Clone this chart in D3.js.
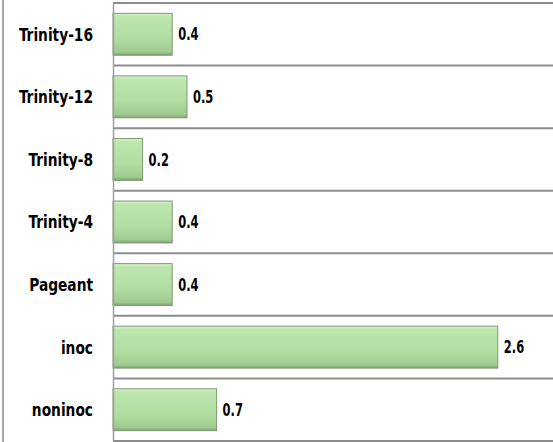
<!DOCTYPE html>
<html><head><meta charset="utf-8">
<script src="https://cdn.jsdelivr.net/npm/d3@7"></script>
<style>body{margin:0;background:#fff}svg{display:block}</style>
</head><body>
<script>
const categories = ["Trinity-16","Trinity-12","Trinity-8","Trinity-4","Pageant","inoc","noninoc"];
const values = [0.4,0.5,0.2,0.4,0.4,2.6,0.7];
const valueLabels = ["0.4","0.5","0.2","0.4","0.4","2.6","0.7"];

const W = 553, H = 442;
const svg = d3.select("body").append("svg").attr("width", W).attr("height", H);
const plotLeft = 113, plotTop = 3, plotBottom = 441;
const x = d3.scaleLinear().domain([0, 3]).range([plotLeft, plotLeft + 444]);
const y = d3.scaleBand().domain(categories).range([plotTop, plotBottom]).paddingInner(0.33).paddingOuter(0.165);
const FONT = "'DejaVu Sans Condensed','DejaVu Sans',sans-serif";

const defs = svg.append("defs");
const g = defs.append("linearGradient").attr("id","bg").attr("x1",0).attr("y1",0).attr("x2",0).attr("y2",1);
g.append("stop").attr("offset","0%").attr("stop-color","#d9f1cf");
g.append("stop").attr("offset","8%").attr("stop-color","#bde6ae");
g.append("stop").attr("offset","60%").attr("stop-color","#b2dea1");
g.append("stop").attr("offset","92%").attr("stop-color","#9fcb8f");
g.append("stop").attr("offset","100%").attr("stop-color","#7f9f74");

// left frame line
svg.append("line").attr("x1",3).attr("x2",3).attr("y1",0).attr("y2",H)
  .attr("stroke","#8a8a8a").attr("stroke-width",1.5);

// category separators
const step = (plotBottom - plotTop) / categories.length;
const seps = d3.range(categories.length + 1).map(i => plotTop + i * step);
svg.selectAll("line.sep").data(seps).join("line").attr("class","sep")
  .attr("x1", plotLeft).attr("x2", W).attr("y1", d => d).attr("y2", d => d)
  .attr("stroke","#8c8c8c").attr("stroke-width",2);

// bars
svg.selectAll("rect.bar").data(categories).join("rect").attr("class","bar")
  .attr("x", x(0)).attr("y", d => y(d))
  .attr("width", (d,i) => x(values[i]) - x(0))
  .attr("height", y.bandwidth())
  .attr("fill","url(#bg)")
  .attr("stroke","#7d9c72").attr("stroke-width",1);

// axis
const sx = 0.85;
const yAxis = d3.axisLeft(y).tickSize(0).tickPadding(20);
const ax = svg.append("g").attr("transform",`translate(${plotLeft},0)`).call(yAxis);
ax.select(".domain").attr("stroke","#a0a0a0").attr("stroke-width",1.5);
ax.selectAll("text").attr("font-family",FONT)
  .attr("font-weight","bold").attr("font-size","18px").attr("fill","#000")
  .attr("x", -20 / sx).attr("dy","0.36em")
  .attr("transform", `scale(${sx},1)`);

// value labels
const sv = 0.75;
svg.selectAll("text.val").data(categories).join("text").attr("class","val")
  .attr("transform", (d,i) => `translate(${x(values[i]) + 6},${y(d) + y.bandwidth()/2}) scale(${sv},1)`)
  .attr("dy","0.36em")
  .attr("font-family",FONT)
  .attr("font-weight","bold").attr("font-size","17px").attr("fill","#000")
  .text((d,i) => valueLabels[i]);
</script>
</body></html>
